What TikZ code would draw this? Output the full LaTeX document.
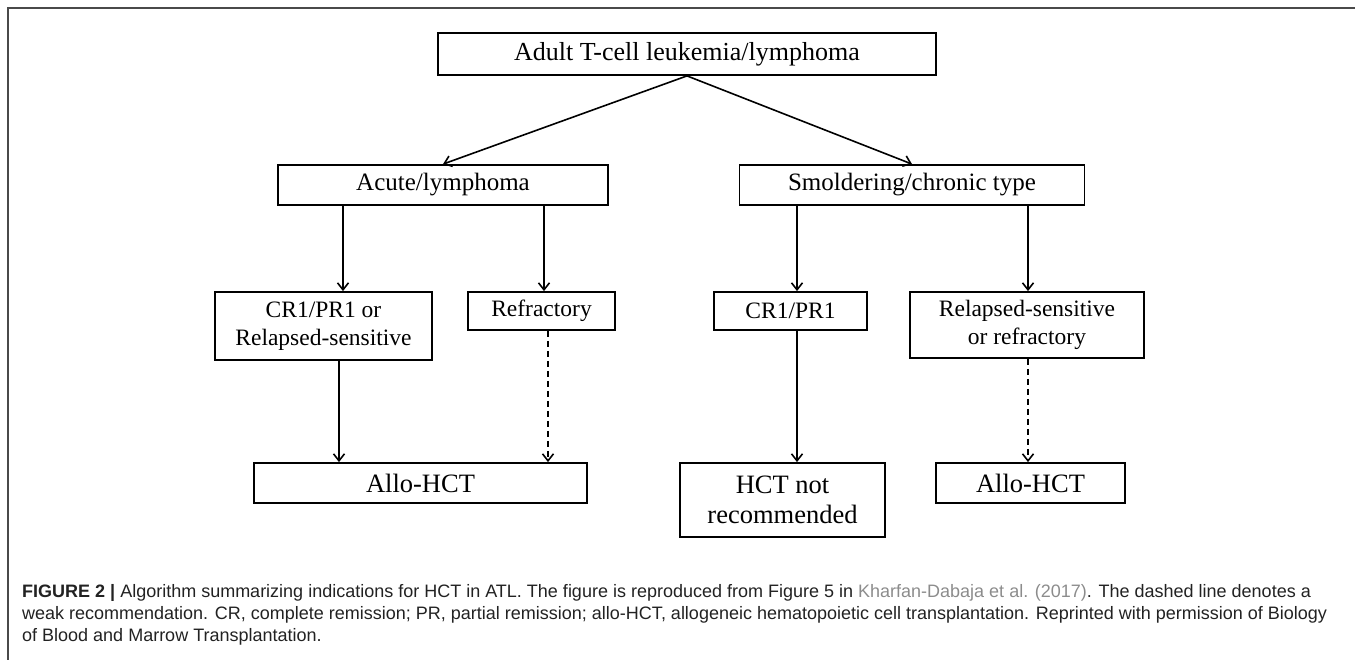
\documentclass[tikz,border=0pt]{standalone}
\usepackage{fontspec}
\setmainfont{Liberation Serif}
\newfontfamily\capfont{Liberation Sans}
\usetikzlibrary{calc, positioning, arrows.meta}
\definecolor{framegray}{HTML}{4A4A4A}
\definecolor{linkgray}{HTML}{8C8C8C}
\definecolor{captext}{HTML}{222222}
\tikzset{
  box/.style={draw, line width=1.8pt, inner sep=0pt, align=center},
  arr/.style={line width=1.6pt, -{Straight Barb[length=7pt,width=11pt,line width=1.6pt]}},
  weak/.style={arr, dash pattern=on 6pt off 4pt}
}

\begin{document}
\begin{tikzpicture}[x=1pt, y=-1pt]
    \useasboundingbox (0,0) rectangle (1355,660);

    % Frame (top and left edge only)
    \draw[framegray, line width=2pt] (8,660) -- (8,8) -- (1355,8);

    % Columns where the vertical connectors run
    \foreach \n/\x in {a/343, b/544, c/339, d/548, e/797, f/1028}
      \coordinate (col\n) at (\x,0);

    % Top level
    \node[box, minimum width=498pt, minimum height=42pt, font=\fontsize{26}{30}\selectfont]
      (atl) at (687,54) {Adult T-cell leukemia/lymphoma};

    % Second level
    \node[box, minimum width=330pt, minimum height=40pt, font=\fontsize{25}{29}\selectfont]
      (acute) at (443,185) {Acute/lymphoma};
    \node[box, minimum width=345pt, minimum height=40pt, font=\fontsize{25}{29}\selectfont]
      (smold) at (912,185) {Smoldering/chronic type};

    % Third level
    \node[box, minimum width=217pt, minimum height=68pt, font=\fontsize{23.5}{27.7}\selectfont]
      (crone) at (323.5,326) {CR1/PR1 or\\Relapsed-sensitive};
    \node[box, minimum width=147pt, minimum height=38pt, font=\fontsize{23.5}{27.7}\selectfont]
      (refr) at (541.5,311) {Refractory};
    \node[box, minimum width=153pt, minimum height=38pt, font=\fontsize{23.5}{27.7}\selectfont]
      (crtwo) at (790.5,311) {CR1/PR1};
    \node[box, minimum width=234pt, minimum height=66pt, font=\fontsize{23.5}{27.7}\selectfont]
      (relap) at (1027,325) {Relapsed-sensitive\\or refractory};

    % Bottom level
    \node[box, minimum width=333pt, minimum height=40pt, font=\fontsize{26.5}{30}\selectfont]
      (alloa) at (420.5,483) {Allo-HCT};
    \node[box, minimum width=205pt, minimum height=74pt, font=\fontsize{26.5}{30}\selectfont]
      (hctno) at (782.5,500) {HCT not\\recommended};
    \node[box, minimum width=189pt, minimum height=40pt, font=\fontsize{26.5}{30}\selectfont]
      (allob) at (1030.5,483) {Allo-HCT};

    % Connectors
    \draw[arr] (atl.south) -- (acute.north);
    \draw[arr] (atl.south) -- (smold.north);
    \draw[arr] (acute.south -| cola) -- (crone.north -| cola);
    \draw[arr] (acute.south -| colb) -- (refr.north -| colb);
    \draw[arr] (smold.south -| cole) -- (crtwo.north -| cole);
    \draw[arr] (smold.south -| colf) -- (relap.north -| colf);
    \draw[arr] (crone.south -| colc) -- (alloa.north -| colc);
    \draw[weak] (refr.south -| cold) -- (alloa.north -| cold);
    \draw[arr] (crtwo.south -| cole) -- (hctno.north -| cole);
    \draw[weak] (relap.south -| colf) -- (allob.north -| colf);

    % Caption
    \node[anchor=base west, inner sep=0pt, text=captext, font=\capfont\fontsize{18}{22}\selectfont]
      (capa) at (22,597) {\textbf{FIGURE 2 |} Algorithm summarizing indications for HCT in ATL. The figure is reproduced from Figure 5 in \textcolor{linkgray}{Kharfan-Dabaja et al. (2017)}. The dashed line denotes a};
    \node[anchor=base west, inner sep=0pt, text=captext, font=\capfont\fontsize{18}{22}\selectfont]
      (capb) at (22,619) {weak recommendation. CR, complete remission; PR, partial remission; allo-HCT, allogeneic hematopoietic cell transplantation. Reprinted with permission of Biology};
    \node[anchor=base west, inner sep=0pt, text=captext, font=\capfont\fontsize{18}{22}\selectfont]
      (capc) at (22,641) {of Blood and Marrow Transplantation.};
\end{tikzpicture}
\end{document}
